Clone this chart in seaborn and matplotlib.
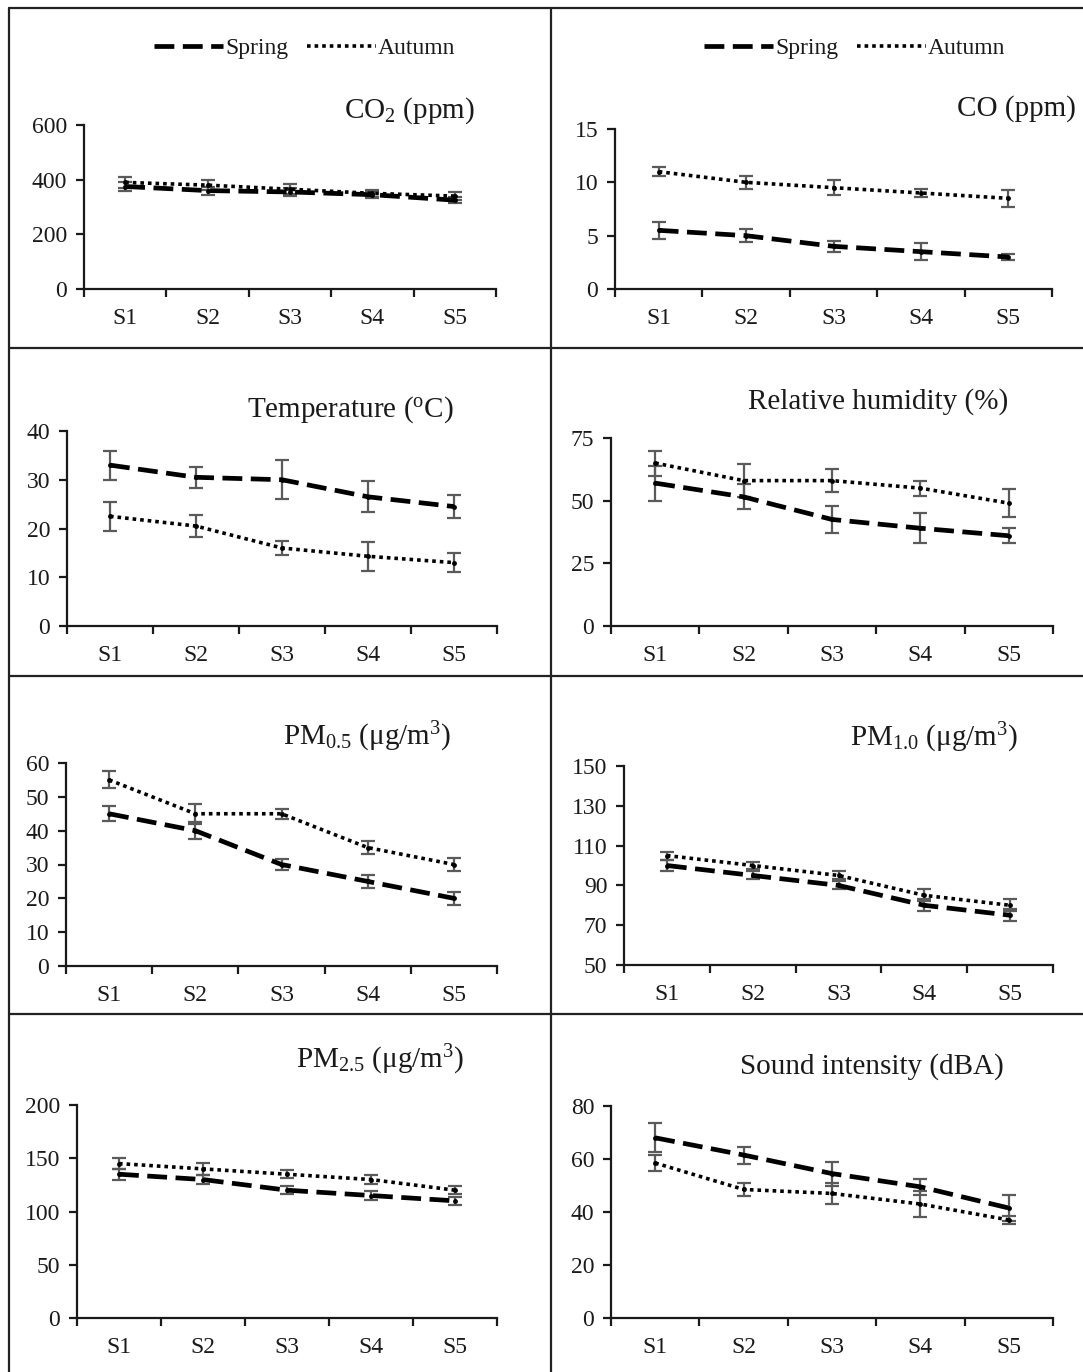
import numpy as np
import pandas as pd
import matplotlib
matplotlib.use("Agg")
import matplotlib.pyplot as plt
import seaborn as sns
from matplotlib.lines import Line2D

# ---------------------------------
# Data
# ---------------------------------
sites = ["S1", "S2", "S3", "S4", "S5"]

co2_spring = [375, 360, 355, 345, 325]
co2_spring_err = [15, 15, 15, 12, 12]
co2_autumn = [390, 380, 365, 350, 340]
co2_autumn_err = [20, 18, 18, 12, 15]

co_spring = [5.5, 5.0, 4.0, 3.5, 3.0]
co_spring_err = [0.8, 0.6, 0.5, 0.8, 0.3]
co_autumn = [11.0, 10.0, 9.5, 9.0, 8.5]
co_autumn_err = [0.4, 0.6, 0.7, 0.4, 0.8]

temp_spring = [33.0, 30.5, 30.0, 26.5, 24.5]
temp_spring_err = [3.0, 2.2, 4.0, 3.2, 2.3]
temp_autumn = [22.5, 20.5, 16.0, 14.3, 13.0]
temp_autumn_err = [3.0, 2.2, 1.5, 3.0, 2.0]

rh_spring = [57, 51.5, 42.5, 39, 36]
rh_spring_err = [7, 5, 5.5, 6, 3]
rh_autumn = [65, 58, 58, 55, 49]
rh_autumn_err = [5, 6.5, 4.5, 3, 5.5]

pm05_spring = [45, 40, 30, 25, 20]
pm05_spring_err = [2.2, 2.5, 1.5, 2.0, 2.0]
pm05_autumn = [55, 45, 45, 35, 30]
pm05_autumn_err = [2.5, 3.0, 1.5, 2.0, 2.0]

pm10_spring = [100, 95, 90, 80, 75]
pm10_spring_err = [3, 2, 2, 3, 3]
pm10_autumn = [105, 100, 95, 85, 80]
pm10_autumn_err = [2, 2, 2, 3, 3]

pm25_spring = [135, 130, 120, 115, 110]
pm25_spring_err = [5, 4, 4, 4, 4]
pm25_autumn = [145, 140, 135, 130, 120]
pm25_autumn_err = [5, 6, 4, 4, 4]

sound_spring = [68, 61.5, 54.5, 49.5, 41.5]
sound_spring_err = [5.5, 3.2, 4.5, 3.0, 5.0]
sound_autumn = [58.5, 48.5, 47, 43, 37]
sound_autumn_err = [3.0, 2.5, 4.0, 5.0, 1.5]

# ---------------------------------
# Style
# ---------------------------------
sns.set_style("ticks")
plt.rcParams["font.family"] = ["Liberation Serif", "DejaVu Serif"]
plt.rcParams["mathtext.fontset"] = "custom"
plt.rcParams["mathtext.rm"] = "Liberation Serif"
plt.rcParams["mathtext.it"] = "Liberation Serif:italic"
plt.rcParams["mathtext.bf"] = "Liberation Serif:bold"

TXT = "#1a1a1a"
W, H = 1083, 1372
fig = plt.figure(figsize=(W / 100, H / 100), dpi=100)

SPRING_LS = (0, (4.2, 1.8))
AUTUMN_LS = (0, (1.0, 1.1))
SPRING_LW = 3.4
AUTUMN_LW = 2.6

# panel: title, spring, spring_err, autumn, autumn_err, ylim, yticks,
#        axes box in pixels (left, right, top, bottom), title pos (right x, baseline y)
panels = [
    (r"CO$_2$ (ppm)", co2_spring, co2_spring_err, co2_autumn, co2_autumn_err,
     (0, 600), [0, 200, 400, 600], (84, 496, 125, 289), (475, 118)),
    ("CO (ppm)", co_spring, co_spring_err, co_autumn, co_autumn_err,
     (0, 15), [0, 5, 10, 15], (615, 1052, 129, 289), (1076, 116)),
    (r"Temperature ($^{\mathrm{o}}$C)", temp_spring, temp_spring_err, temp_autumn, temp_autumn_err,
     (0, 40), [0, 10, 20, 30, 40], (67, 497, 431, 626), (454, 417)),
    ("Relative humidity (%)", rh_spring, rh_spring_err, rh_autumn, rh_autumn_err,
     (0, 75), [0, 25, 50, 75], (611, 1053, 438, 626), (1008, 409)),
    (r"PM$_{0.5}$ (μg/m$^{3}$)", pm05_spring, pm05_spring_err, pm05_autumn, pm05_autumn_err,
     (0, 60), [0, 10, 20, 30, 40, 50, 60], (66, 497, 763, 966), (451, 745)),
    (r"PM$_{1.0}$ (μg/m$^{3}$)", pm10_spring, pm10_spring_err, pm10_autumn, pm10_autumn_err,
     (50, 150), [50, 70, 90, 110, 130, 150], (624, 1053, 766, 965), (1018, 746)),
    (r"PM$_{2.5}$ (μg/m$^{3}$)", pm25_spring, pm25_spring_err, pm25_autumn, pm25_autumn_err,
     (0, 200), [0, 50, 100, 150, 200], (77, 497, 1105, 1318), (464, 1068)),
    ("Sound intensity (dBA)", sound_spring, sound_spring_err, sound_autumn, sound_autumn_err,
     (0, 80), [0, 20, 40, 60, 80], (611, 1053, 1106, 1318), (1004, 1074)),
]

pos = np.arange(len(sites))

for i, (title, sp, sp_err, au, au_err, ylim, yticks, box, tpos) in enumerate(panels):
    l, r, t, b = box
    ax = fig.add_axes([l / W, 1 - b / H, (r - l) / W, (b - t) / H])

    for vals, errs, ls, lw in [(au, au_err, AUTUMN_LS, AUTUMN_LW),
                               (sp, sp_err, SPRING_LS, SPRING_LW)]:
        df = pd.DataFrame({"pos": pos, "value": vals})
        ax.errorbar(pos, vals, yerr=errs, fmt="none", ecolor="#5a5a5a",
                    elinewidth=1.6, capsize=4.8, capthick=1.6, zorder=2)
        sns.lineplot(data=df, x="pos", y="value", color="black", linewidth=lw,
                     marker="o", markersize=3.5, markeredgewidth=0, ax=ax, zorder=3)
        ax.lines[-1].set_linestyle(ls)

    ax.set_xlim(-0.5, len(sites) - 0.5)
    ax.set_ylim(*ylim)
    ax.set_yticks(yticks)
    ax.set_xticks(np.arange(-0.5, len(sites), 1.0))
    ax.set_xticklabels([])
    ax.set_xticks(pos, minor=True)
    ax.set_xticklabels(sites, minor=True)
    ax.tick_params(axis="x", which="major", length=6, width=1.6, direction="out", color=TXT)
    ax.tick_params(axis="x", which="minor", length=0, pad=14, labelsize=17, labelcolor=TXT)
    ax.tick_params(axis="y", length=6, width=1.6, direction="out", pad=6,
                   labelsize=17, labelcolor=TXT, color=TXT)
    ax.set_xlabel("")
    ax.set_ylabel("")
    sns.despine(ax=ax)
    for s in ("left", "bottom"):
        ax.spines[s].set_linewidth(1.6)
        ax.spines[s].set_color(TXT)
    ax.set_facecolor("none")

    fig.text(tpos[0] / W, 1 - tpos[1] / H, title, ha="right", va="baseline",
             fontsize=21, color=TXT)

    if i < 2:
        handles = [Line2D([], [], color="black", lw=SPRING_LW, linestyle=SPRING_LS),
                   Line2D([], [], color="black", lw=AUTUMN_LW, linestyle=AUTUMN_LS)]
        cx = 305 if i == 0 else 855
        ax.legend(handles, ["Spring", "Autumn"], loc="center", ncol=2,
                  bbox_to_anchor=(cx / W, 1 - 48 / H), bbox_transform=fig.transFigure,
                  frameon=False, fontsize=17, handlelength=2.9, handletextpad=0.1,
                  columnspacing=0.8, labelcolor=TXT)

# ---------------------------------
# Panel frames
# ---------------------------------
frame_kw = dict(color="#222222", lw=1.6, transform=fig.transFigure)
for y in (8, 348, 676, 1014):
    fig.add_artist(Line2D([9 / W, 1], [1 - y / H, 1 - y / H], **frame_kw))
for x in (9, 551):
    fig.add_artist(Line2D([x / W, x / W], [0, 1 - 8 / H], **frame_kw))

fig.savefig("out.png", dpi=100)
